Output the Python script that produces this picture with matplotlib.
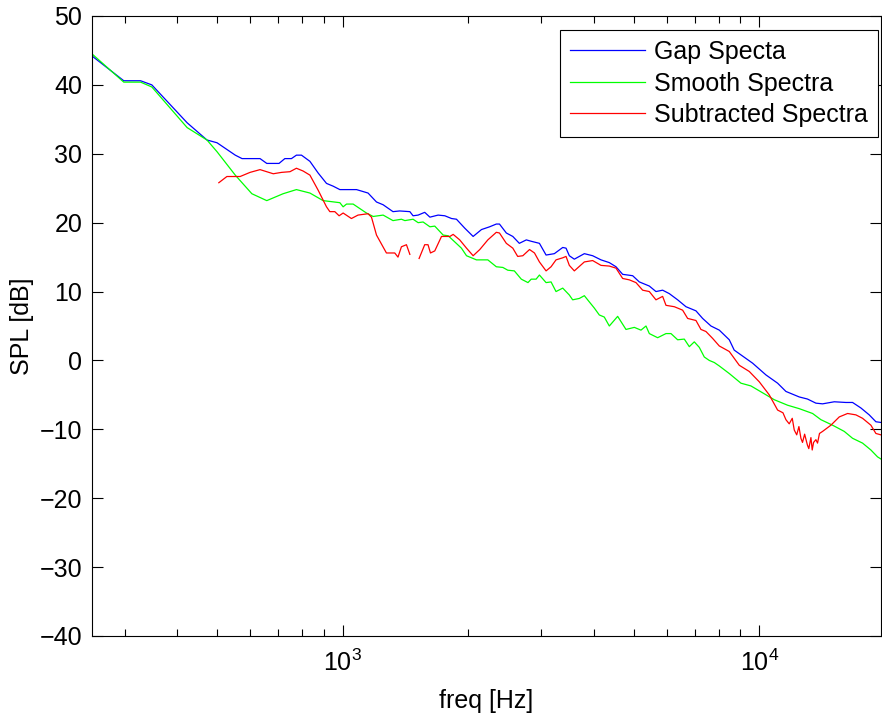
import numpy as np
import matplotlib
matplotlib.use('Agg')
import matplotlib.pyplot as plt
from matplotlib.ticker import LogLocator, MultipleLocator

plt.rcParams['font.family'] = ['Liberation Sans', 'DejaVu Sans']
plt.rcParams['mathtext.fontset'] = 'custom'
plt.rcParams['mathtext.rm'] = 'Liberation Sans'

# Gap spectra (blue)
gap_f = [250, 298, 327, 348, 423, 472, 499, 552, 573, 633, 657, 703, 726, 753,
         774, 796, 834, 873, 914, 948, 984, 1079, 1150, 1205, 1250, 1320, 1370,
         1449, 1475, 1517, 1573, 1619, 1694, 1758, 1825, 1875, 1963, 2056, 2153,
         2252, 2337, 2378, 2470, 2560, 2654, 2759, 2834, 2966, 3077, 3221, 3374,
         3436, 3499, 3597, 3802, 3981, 4169, 4365, 4529, 4699, 4966, 5152, 5445,
         5649, 5861, 6081, 6368, 6668, 7047, 7311, 7656, 8017, 8472, 8706, 9640,
         10375, 11066, 11588, 12474, 13051, 13677, 14191, 15136, 16140, 16749,
         17539, 18365, 19055, 19588]
gap_db = [44.2, 40.6, 40.6, 40.0, 34.5, 32.0, 31.6, 29.8, 29.3, 29.3, 28.6, 28.6,
          29.3, 29.3, 29.8, 29.8, 28.9, 27.2, 25.7, 25.3, 24.8, 24.8, 24.3, 23.0,
          22.6, 21.6, 21.7, 21.6, 21.0, 21.1, 21.5, 20.8, 21.1, 21.0, 20.6, 20.5,
          19.2, 18.0, 19.0, 19.4, 19.8, 19.8, 18.5, 18.0, 17.0, 17.5, 17.3, 17.0,
          15.3, 15.5, 16.4, 16.3, 15.2, 14.7, 15.5, 15.2, 14.6, 14.2, 13.6, 12.5,
          12.3, 11.4, 10.8, 10.0, 10.2, 9.7, 8.8, 7.8, 7.2, 6.1, 5.0, 4.4, 3.0,
          1.5, -0.4, -2.1, -3.3, -4.5, -5.3, -5.6, -6.2, -6.3, -6.0, -6.1, -6.1,
          -6.9, -7.9, -8.9, -9.0]

# Smooth spectra (green)
smooth_f = [250, 298, 327, 348, 423, 472, 499, 552, 605, 657, 719, 774, 834, 897,
            984, 1002, 1021, 1059, 1140, 1183, 1250, 1320, 1383, 1410, 1475, 1517,
            1559, 1619, 1663, 1742, 1791, 1927, 1982, 2094, 2230, 2337, 2423, 2490,
            2582, 2683, 2784, 2834, 2912, 2966, 3077, 3163, 3251, 3374, 3499, 3564,
            3698, 3802, 3908, 4018, 4130, 4245, 4365, 4571, 4786, 5012, 5200, 5346,
            5445, 5702, 5971, 6138, 6368, 6607, 6792, 6982, 7178, 7379, 7586, 7798,
            8017, 8472, 9036, 9550, 10188, 10864, 11695, 12474, 13428, 14061, 14996,
            15996, 16749, 17701, 18535, 19231, 19588]
smooth_db = [44.5, 40.4, 40.4, 39.7, 33.8, 32.0, 30.3, 26.9, 24.2, 23.2, 24.2,
             24.8, 24.3, 23.2, 22.9, 22.3, 22.7, 22.7, 21.4, 20.9, 21.1, 20.3, 20.5,
             20.3, 20.5, 20.0, 20.1, 19.4, 19.5, 18.2, 18.1, 16.3, 15.2, 14.6, 14.6,
             13.6, 13.5, 13.1, 13.0, 11.8, 11.3, 11.8, 11.8, 12.4, 11.3, 11.4, 10.0,
             10.5, 9.5, 8.8, 9.0, 9.4, 8.5, 7.6, 6.6, 6.3, 5.0, 6.4, 4.5, 4.8, 4.4,
             5.0, 3.9, 3.3, 3.9, 3.9, 3.0, 3.1, 2.0, 2.7, 1.9, 0.5, 0.0, -0.3, -0.8,
             -1.9, -3.3, -3.7, -4.7, -5.7, -6.5, -7.0, -7.7, -8.6, -9.4, -10.3,
             -11.3, -12.0, -13.0, -14.0, -14.3]

# Subtracted spectra (red), NaN where the curve is missing
sub_f = [504, 527, 567, 599, 633, 681, 713, 747, 774, 803, 834, 873, 914, 931,
         957, 980, 1002, 1049, 1088, 1150, 1172, 1205, 1273, 1333, 1357, 1383,
         1422, 1449, 1480, 1525, 1573, 1602, 1624, 1663, 1726, 1808, 1841, 1909,
         1982, 2056, 2133, 2230, 2337, 2378, 2470, 2560, 2630, 2706, 2808, 2886,
         2966, 3077, 3163, 3251, 3374, 3436, 3499, 3597, 3802, 3981, 4169, 4365,
         4529, 4699, 4875, 5058, 5248, 5445, 5649, 5861, 5971, 6252, 6546, 6730,
         7047, 7244, 7447, 7727, 8017, 8472, 8953, 9462, 10000, 10568, 11066,
         11400, 11588, 11800, 12000, 12134, 12300, 12450, 12589, 12700, 12850,
         13051, 13150, 13305, 13400, 13500, 13677, 13800, 13950, 14191, 14858,
         15560, 16293, 17061, 17701, 18535, 19055, 19588]
sub_db = [25.8, 26.7, 26.7, 27.3, 27.7, 27.1, 27.3, 27.4, 27.9, 27.5, 26.9, 24.7,
          22.3, 21.6, 21.6, 21.0, 21.4, 20.6, 21.1, 21.3, 20.8, 18.2, 15.6, 15.6,
          15.0, 16.5, 16.8, 15.4, np.nan, 14.8, 16.8, 16.8, 15.6, 15.9, 18.0, 18.0,
          18.3, 17.5, 16.3, 15.2, 16.1, 17.5, 18.6, 18.5, 17.0, 16.3, 15.1, 15.2,
          16.1, 15.6, 14.3, 13.0, 13.6, 14.6, 14.9, 15.1, 13.8, 13.0, 14.3, 14.5,
          13.8, 13.7, 13.4, 11.9, 11.7, 11.3, 10.2, 10.0, 8.8, 9.3, 8.0, 7.8, 7.3,
          6.1, 5.8, 4.5, 4.2, 3.2, 2.1, 1.3, -0.7, -1.6, -3.1, -5.0, -7.2,
          -7.6, -8.6, -9.2, -8.4, -10.1, -10.8, -9.6, -11.3, -11.9, -10.7,
          -12.3, -12.8, -11.2, -13.0, -11.9, -11.5, -12.0, -10.6, -10.3, -9.4,
          -8.2, -7.7, -7.9, -8.4, -9.4, -10.6, -10.8]

fig = plt.figure(figsize=(8.82, 7.26), dpi=100)
ax = fig.add_axes([92 / 882, 1 - 636 / 726, 789 / 882, 620 / 726])

ax.semilogx(gap_f, gap_db, color=(0, 0, 1), linewidth=0.9, label="Gap Specta")
ax.semilogx(smooth_f, smooth_db, color=(0, 1, 0), linewidth=0.9, label="Smooth Spectra")
ax.semilogx(sub_f, sub_db, color=(1, 0, 0), linewidth=0.9, label="Subtracted Spectra")

ax.set_xlim(250, 19600)
ax.set_ylim(-40, 50)
ax.yaxis.set_major_locator(MultipleLocator(10))
ax.xaxis.set_major_locator(LogLocator(base=10))
ax.xaxis.set_minor_locator(LogLocator(base=10, subs=np.arange(2, 10)))
ax.xaxis.set_minor_formatter(plt.NullFormatter())

ax.tick_params(which='both', direction='in', top=True, right=True,
               labelsize=18, width=0.8)
ax.tick_params(which='major', length=8)
ax.tick_params(which='minor', length=5)
ax.tick_params(axis='x', which='major', pad=10)
ax.tick_params(axis='y', which='major', pad=7)
for s in ax.spines.values():
    s.set_linewidth(0.8)

ax.set_xlabel("freq [Hz]", fontsize=18, labelpad=9)
ax.set_ylabel("SPL [dB]", fontsize=18, labelpad=4)

leg = ax.legend(loc='upper right', bbox_to_anchor=(0.9962, 0.9774),
                borderaxespad=0, fontsize=18, frameon=True, fancybox=False,
                handlelength=3.0, labelspacing=0.3, handletextpad=0.35,
                borderpad=0.4)
leg.get_frame().set_edgecolor('black')
leg.get_frame().set_linewidth(0.8)
leg.get_frame().set_alpha(1)

fig.savefig("out.png", dpi=100)
